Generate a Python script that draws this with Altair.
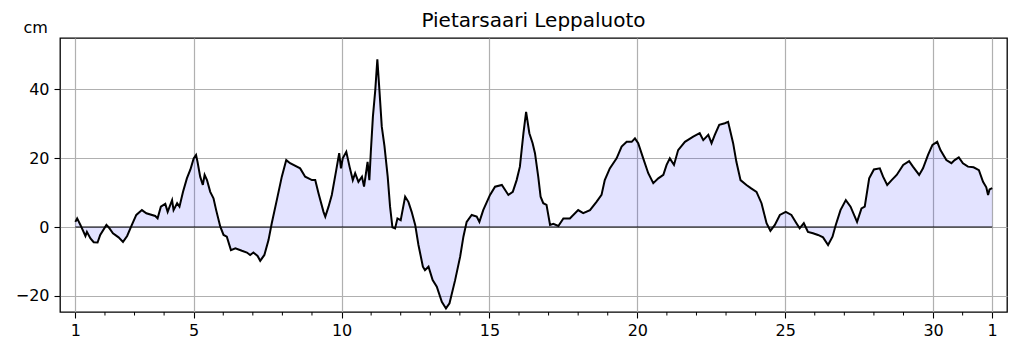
import altair as alt
import pandas as pd

# Sea level (cm), day of month (1 = start of month, 32 = 1st of next month)
days = [
    1.00, 1.06, 1.17, 1.34, 1.39, 1.51, 1.62, 1.75, 1.84, 2.05, 2.13, 2.27, 2.46, 2.61, 2.75, 2.91,
    3.06, 3.25, 3.40, 3.70, 3.78, 3.89, 4.04, 4.12, 4.27, 4.32, 4.44, 4.52, 4.64, 4.77, 4.89, 5.00,
    5.08, 5.13, 5.22, 5.31, 5.37, 5.45, 5.56, 5.67, 5.76, 5.90, 6.01, 6.12, 6.26, 6.41, 6.63, 6.80,
    6.91, 7.02, 7.16, 7.25, 7.39, 7.53, 7.64, 7.81, 7.98, 8.13, 8.26, 8.60, 8.77, 9.00, 9.11, 9.22,
    9.39, 9.45, 9.56, 9.67, 9.82, 9.92, 9.98, 10.04, 10.16, 10.27, 10.38, 10.46, 10.57, 10.69, 10.76,
    10.88, 10.94, 10.99, 11.06, 11.14, 11.21, 11.28, 11.36, 11.45, 11.56, 11.64, 11.72, 11.81, 11.89,
    12.00, 12.15, 12.26, 12.37, 12.49, 12.60, 12.75, 12.82, 12.94, 13.08, 13.22, 13.39, 13.53, 13.65,
    13.84, 14.01, 14.12, 14.23, 14.40, 14.57, 14.66, 14.79, 15.02, 15.19, 15.42, 15.64, 15.79, 15.92,
    16.03, 16.15, 16.24, 16.35, 16.46, 16.54, 16.65, 16.73, 16.82, 16.93, 17.05, 17.16, 17.33, 17.50,
    17.72, 18.00, 18.17, 18.40, 18.62, 18.79, 18.90, 19.07, 19.30, 19.47, 19.64, 19.81, 19.92, 20.03,
    20.20, 20.37, 20.54, 20.71, 20.88, 20.99, 21.10, 21.24, 21.38, 21.61, 21.89, 22.11, 22.23, 22.40,
    22.51, 22.62, 22.77, 22.96, 23.07, 23.24, 23.35, 23.49, 23.69, 23.85, 24.03, 24.20, 24.37, 24.50,
    24.65, 24.82, 25.02, 25.21, 25.38, 25.49, 25.63, 25.77, 25.94, 26.11, 26.28, 26.45, 26.60, 26.71,
    26.87, 27.05, 27.21, 27.43, 27.58, 27.69, 27.84, 28.00, 28.20, 28.31, 28.45, 28.60, 28.77, 28.99,
    29.19, 29.32, 29.53, 29.66, 29.83, 29.98, 30.14, 30.25, 30.45, 30.62, 30.73, 30.87, 31.01, 31.18,
    31.37, 31.55, 31.69, 31.80, 31.86, 31.91, 32.00,
]
level_cm = [
    1.5, 2.5, 0.6, -2.6, -1.4, -3.3, -4.4, -4.5, -2.3, 0.6, -0.1, -1.8, -3.0, -4.3, -2.6, 0.6,
    3.5, 4.9, 4.0, 3.2, 2.5, 5.9, 6.7, 4.4, 7.8, 4.9, 6.9, 5.9, 10.2, 14.1, 16.7, 19.9,
    20.9, 18.9, 14.6, 12.2, 15.1, 13.6, 10.2, 8.3, 4.9, 0.1, -2.3, -2.8, -6.7, -6.2, -6.9, -7.4,
    -8.1, -7.4, -8.4, -9.8, -8.1, -3.8, 1.1, 7.8, 14.6, 19.4, 18.5, 17.0, 14.6, 13.6, 13.6, 9.8,
    4.4, 3.0, 5.9, 9.3, 16.5, 21.4, 17.0, 19.9, 21.8, 17.5, 13.6, 15.6, 13.1, 14.6, 11.7,
    18.9, 13.6, 21.8, 32.0, 39.7, 48.6, 39.7, 29.1, 23.5, 14.6, 5.9, -0.1, -0.4, 2.5,
    2.0, 8.8, 7.3, 4.4, 0.6, -5.2, -11.5, -12.5, -11.5, -15.4, -17.3, -21.7, -23.6, -22.1,
    -15.4, -8.6, -2.8, 1.5, 3.5, 3.0, 1.5, 4.9, 9.3, 11.7, 12.2, 9.3, 10.2, 13.6,
    17.5, 27.2, 33.4, 27.2, 24.3, 21.4, 14.6, 8.8, 6.9, 6.4, 0.6, 0.9, 0.3, 2.5,
    2.5, 4.9, 4.0, 4.9, 7.3, 9.3, 13.6, 17.0, 19.9, 23.3, 24.7, 24.7, 25.7, 24.3,
    19.9, 15.6, 12.7, 14.1, 15.1, 18.0, 19.9, 18.0, 22.3, 24.7, 26.2, 27.2, 25.2, 26.7,
    24.3, 26.7, 29.6, 30.1, 30.5, 24.3, 18.9, 13.6, 12.2, 11.2, 10.2, 6.9, 1.1, -1.1,
    0.6, 3.5, 4.4, 3.5, 1.1, -0.4, 1.1, -1.4, -1.8, -2.3, -3.0, -5.2, -2.8, 0.6,
    4.9, 7.8, 5.9, 1.5, 5.4, 5.9, 14.1, 16.7, 17.0, 14.6, 12.2, 13.6, 15.1, 18.0,
    19.1, 17.5, 15.1, 17.0, 20.9, 23.8, 24.7, 22.3, 19.4, 18.5, 19.4, 20.2, 18.5, 17.5,
    17.3, 16.5, 13.1, 11.5, 9.3, 10.9, 11.3,
]

major_days = [1, 5, 10, 15, 20, 25, 30, 32]
minor_days = [d for d in range(2, 32) if d not in major_days]
y_ticks = [-20, 0, 20, 40]
title_text = "Pietarsaari Leppaluoto"
y_unit = "cm"

W, H = 947, 274
FONT = "DejaVu Sans"

df = pd.DataFrame({"day": days, "level": level_cm})

x_scale = alt.Scale(domain=[0.48, 32.5], nice=False, zero=False)
y_scale = alt.Scale(domain=[-24.64, 54.8], nice=False, zero=False)

x_axis = alt.Axis(
    values=major_days, format="d",
    labelExpr="datum.value == 32 ? '1' : datum.label",
    tickSize=6, labelPadding=4, grid=True, domain=False,
)
y_axis = alt.Axis(
    values=y_ticks, format="d", tickSize=6, labelPadding=5, grid=True, domain=False,
    titleAngle=0, titleX=-37, titleY=-6, titleAlign="left", titleBaseline="alphabetic",
)

X = lambda f: alt.X(f, scale=x_scale, axis=x_axis, title=None)
Y = lambda f: alt.Y(f, scale=y_scale, axis=y_axis, title=y_unit)

base = alt.Chart(df)
area = base.mark_area(color="blue", opacity=0.11).encode(
    x=X("day:Q"), y=Y("level:Q"), y2=alt.datum(0)
)
line = base.mark_line(color="black", strokeWidth=2).encode(x=X("day:Q"), y=Y("level:Q"))

zero_df = pd.DataFrame({"start": [1], "end": [32], "zero": [0]})
zero = alt.Chart(zero_df).mark_rule(color="black", strokeWidth=1.1).encode(
    x=X("start:Q"), x2="end:Q", y=Y("zero:Q")
)

minor = alt.Chart(pd.DataFrame({"day": minor_days})).mark_rule(color="black", strokeWidth=1).encode(
    x=X("day:Q"), y=alt.value(H), y2=alt.value(H + 3.5)
)

chart = alt.layer(area, zero, line, minor).properties(
    width=W, height=H,
    background="white",
    title=alt.TitleParams(title_text, fontSize=20, font=FONT, fontWeight="normal",
                          frame="group", anchor="middle", offset=-28, baseline="alphabetic",
                          color="black"),
    autosize=alt.AutoSizeParams(type="none"),
    padding={"left": 60, "top": 38, "right": 12, "bottom": 40},
).configure_view(
    stroke="black", strokeWidth=1.3
).configure_axis(
    labelFont=FONT, labelFontSize=16, labelColor="black",
    titleFont=FONT, titleFontSize=16, titleFontWeight="normal", titleColor="black",
    tickColor="black", tickWidth=1.1,
    gridColor="#b0b0b0", gridWidth=1.2,
)

chart.save("out.html", embed_options={"renderer": "svg", "actions": False})
